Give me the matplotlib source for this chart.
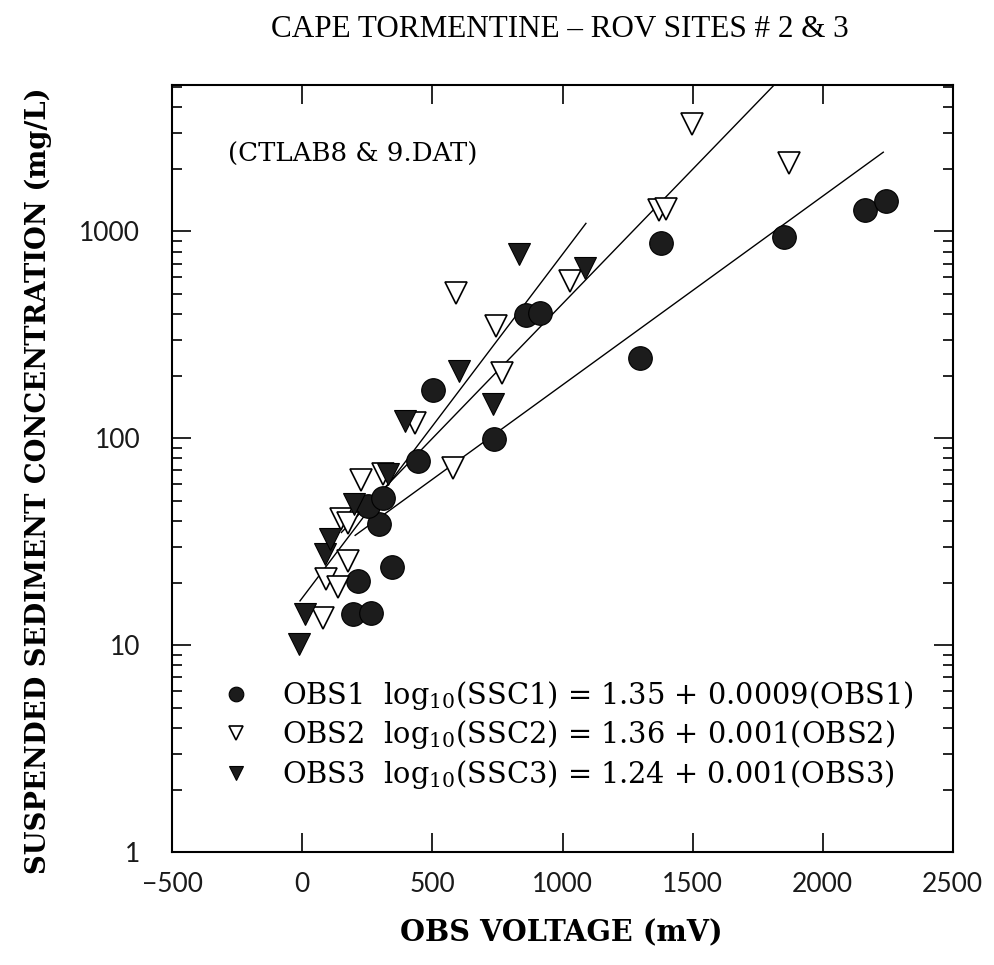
import matplotlib
matplotlib.use("Agg")
import matplotlib.pyplot as plt
from matplotlib.ticker import LogLocator, FixedLocator, NullLocator

# OBS1 (filled circles)
obs1_mv = [195, 262, 214, 343, 294, 253, 311, 446, 501, 737, 860, 914,
           1296, 1377, 1850, 2163, 2242]
obs1_ssc = [14.1, 14.4, 20.5, 24, 38.5, 47, 51.7, 78, 172, 99, 393, 405,
            245, 875, 938, 1268, 1403]

# OBS2 (open triangles)
obs2_mv = [79, 90, 137, 150, 176, 176, 225, 311, 433, 581, 591, 743, 766,
           1029, 1369, 1399, 1498, 1871]
obs2_ssc = [13.5, 21, 19.2, 40.6, 39, 25.5, 63, 67, 119, 72, 506, 351, 206,
            575, 1268, 1286, 3290, 2130]

# OBS3 (filled triangles)
obs3_mv = [-13, 11, 88, 108, 198, 330, 394, 603, 732, 832, 1086]
obs3_ssc = [10.1, 14.1, 27.5, 32.5, 48, 67, 121, 211, 147, 774, 667]

# fitted lines, end points
fit1_mv = [203, 2233]
fit1_ssc = [34.0, 2415]
fit2_mv = [150, 1850]
fit2_ssc = [35.1, 5690]
fit3_mv = [-9, 1090]
fit3_ssc = [16.4, 1094]

labels = [
    r"OBS1  $\mathregular{log_{10}}$(SSC1) = 1.35 + 0.0009(OBS1)",
    r"OBS2  $\mathregular{log_{10}}$(SSC2) = 1.36 + 0.001(OBS2)",
    r"OBS3  $\mathregular{log_{10}}$(SSC3) = 1.24 + 0.001(OBS3)",
]

SERIF = 'DejaVu Serif'
plt.rcParams['mathtext.fontset'] = 'dejavuserif'

fig = plt.figure(figsize=(9.94, 9.65), dpi=100)
ax = fig.add_axes([0.1733, 0.1168, 0.7852, 0.7951])

ax.plot(fit1_mv, fit1_ssc, color='black', lw=1.0)
ax.plot(fit2_mv, fit2_ssc, color='black', lw=1.0)
ax.plot(fit3_mv, fit3_ssc, color='black', lw=1.0)

h1, = ax.plot(obs1_mv, obs1_ssc, 'o', ms=17, mfc='#1c1c1c', mec='black',
              mew=0.8, ls='none')
h2, = ax.plot(obs2_mv, obs2_ssc, 'v', ms=15.5, mfc='white', mec='black',
              mew=1.2, ls='none')
h3, = ax.plot(obs3_mv, obs3_ssc, 'v', ms=15.5, mfc='#1c1c1c', mec='black',
              mew=0.8, ls='none')

ax.set_yscale('log')
ax.set_xlim(-500, 2500)
ax.set_ylim(1, 5100)

ax.xaxis.set_major_locator(FixedLocator([-500, 0, 500, 1000, 1500, 2000, 2500]))
ax.xaxis.set_minor_locator(NullLocator())
ax.yaxis.set_major_locator(FixedLocator([1, 10, 100, 1000]))
ax.yaxis.set_minor_locator(LogLocator(base=10, subs=range(2, 10)))
ax.set_xticklabels(['\u2212500', '0', '500', '1000', '1500', '2000', '2500'])
ax.set_yticklabels(['1', '10', '100', '1000'])
ax.yaxis.set_minor_formatter(plt.NullFormatter())

ax.tick_params(which='both', direction='in', top=True, right=True,
               width=1.2, colors='black')
ax.tick_params(which='major', length=14)
ax.tick_params(which='minor', length=7)
ax.tick_params(axis='x', which='major', pad=14)
ax.tick_params(axis='y', which='major', pad=23)
for lab in ax.get_xticklabels() + ax.get_yticklabels():
    lab.set_family(['Lato', 'DejaVu Sans'])
    lab.set_fontsize(19)
    lab.set_color('#1a1a1a')

for sp in ax.spines.values():
    sp.set_linewidth(1.5)

ax.set_xlabel('OBS VOLTAGE (mV)', family=SERIF, fontweight='bold',
              fontsize=20.6)
ax.xaxis.set_label_coords(0.498, -0.086)
ax.set_ylabel('SUSPENDED SEDIMENT CONCENTRATION (mg/L)', family=SERIF,
              fontweight='bold', fontsize=19.7)
ax.yaxis.set_label_coords(-0.154, 0.484)

fig.text(0.5634, 0.969, 'CAPE TORMENTINE \u2013 ROV SITES # 2 & 3',
         family='Liberation Serif', fontsize=22.4, ha='center', va='center')
ax.text(0.072, 0.909, '(CTLAB8 & 9.DAT)', transform=ax.transAxes,
        family=SERIF, fontsize=18.7, ha='left', va='center')

leg = ax.legend([h1, h2, h3], labels, loc='center left',
                bbox_to_anchor=(0.0295, 0.153), frameon=False, markerscale=0.62,
                handlelength=1.0, handletextpad=1.1, labelspacing=0.22,
                prop={'family': SERIF, 'size': 20.8})

fig.savefig('out.png', dpi=100)
